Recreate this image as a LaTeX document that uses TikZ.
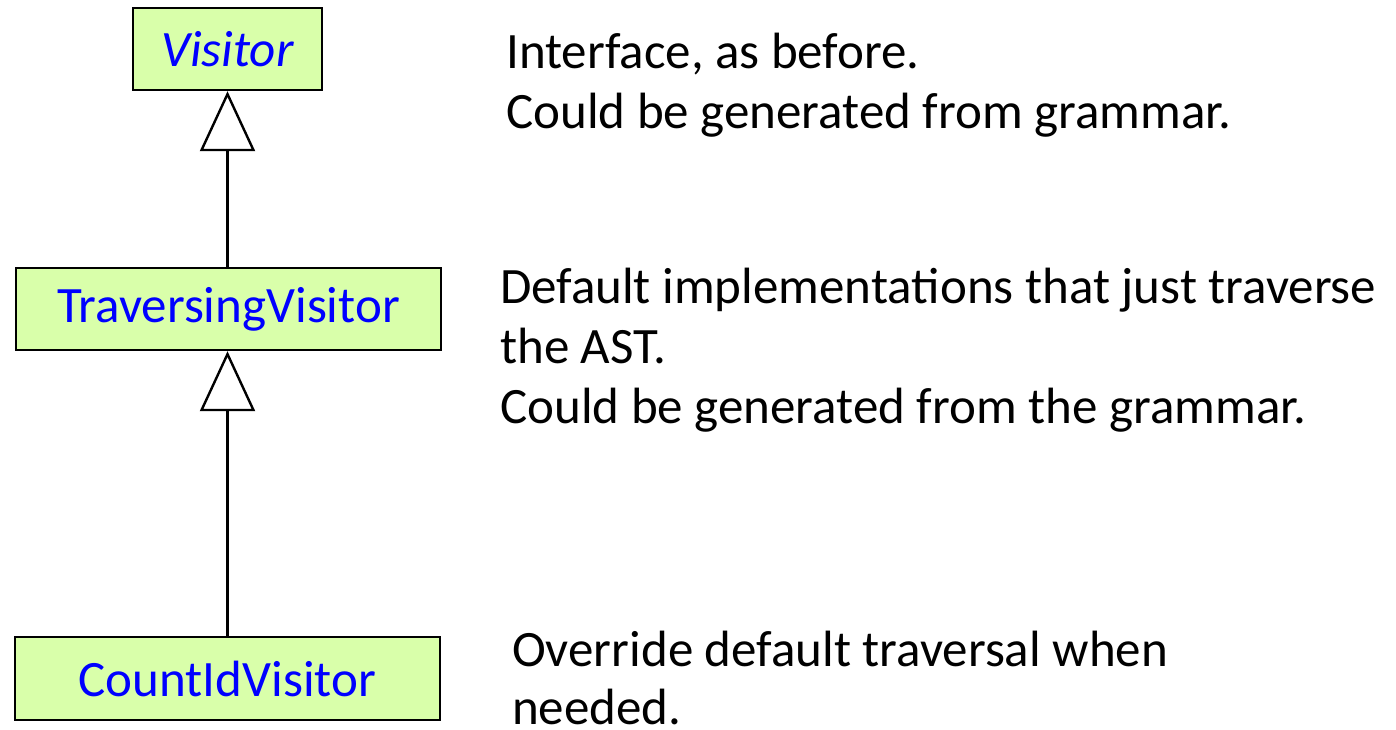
\documentclass[tikz,border=0pt]{standalone}
\usepackage{fontspec}
\setmainfont{Carlito}
\usetikzlibrary{arrows.meta}
\definecolor{boxfill}{RGB}{217,255,170}
\definecolor{boxtext}{RGB}{0,0,255}
\tikzset{
  classbox/.style={draw=black, line width=2.4bp, fill=boxfill, text=boxtext,
    font=\fontsize{51bp}{60bp}\selectfont, inner sep=0pt},
  inherit/.style={line width=2.4bp, -{Triangle[open, length=60bp, width=55bp, line join=miter]}},
  note/.style={anchor=base west, inner sep=0pt, font=\fontsize{51bp}{60bp}\selectfont},
}
\begin{document}
\begin{tikzpicture}[x=1bp, y=-1bp]
\useasboundingbox (0,0) rectangle (1396,729);
\node[classbox, minimum width=189bp, minimum height=82bp] (visitor) at (227.5,49) {\itshape Visitor};
\node[classbox, minimum width=425bp, minimum height=82bp] (trav) at (228.5,309) {TraversingVisitor};
\node[classbox, minimum width=425bp, minimum height=83bp] (count) at (227.5,678.5) {CountIdVisitor};
\draw[inherit] (trav.north -| visitor.south) -- (visitor.south);
\draw[inherit] (count.north -| visitor.south) -- (trav.south -| visitor.south);
\node[note] (n1) at (506,69) {Interface, as before.};
\node[note] (n2) at (506,129) {Could be generated from grammar.};
\node[note] (n3) at (500,303) {Default implementations that just traverse};
\node[note] (n4) at (500,363) {the AST.};
\node[note] (n5) at (500,423) {Could be generated from the grammar.};
\node[note] (n6) at (512,666) {Override default traversal when};
\node[note] (n7) at (512,724) {needed.};
\end{tikzpicture}
\end{document}
